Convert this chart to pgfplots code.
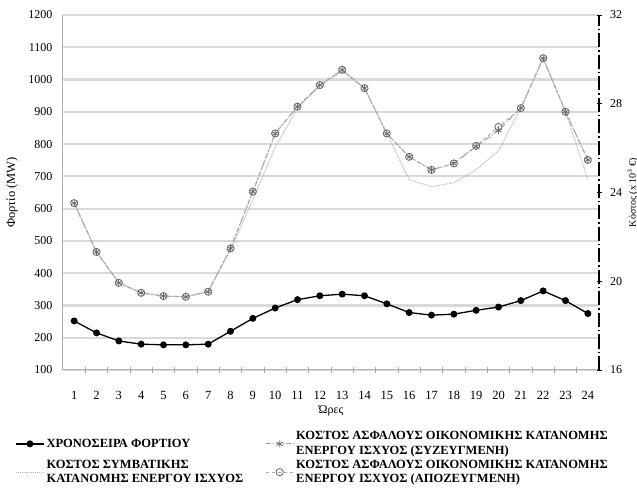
\documentclass[border=0pt]{standalone}
\usepackage{pgfplots}
\pgfplotsset{compat=1.18}
\usepackage{fontspec}
\setmainfont{Liberation Serif}
\begin{document}
\begin{tikzpicture}
\useasboundingbox (-63pt,-125pt) rectangle (574pt,370pt);
\pgfplotsset{
  loadst/.style={black, line width=1.3pt, mark=*, mark size=2.8pt, mark options={solid, fill=black}},
  convst/.style={gray!55, densely dotted, line width=1.1pt},
  syzst/.style={gray!75, dash pattern=on 5pt off 2pt on 1pt off 2pt, line width=1pt, mark=asterisk, mark size=3.6pt, mark options={solid, gray!85!black, line width=0.8pt}},
  apost/.style={gray!65, dashed, line width=1pt, mark=o, mark size=3.6pt, mark options={solid, gray!80!black, line width=0.8pt}},
  common/.style={
    scale only axis, width=536pt, height=355pt,
    at={(0,0)}, anchor=south west,
    xmin=0.5, xmax=24.5,
    /pgf/number format/assume math mode=true,
    /pgf/number format/1000 sep={},
    ticklabel style={font=\fontsize{12}{13}\selectfont},
  },
}
\begin{axis}[common,
  ymin=100, ymax=1200, ytick={100,200,...,1200},
  axis y line*=left, axis x line*=bottom,
  axis line style={gray!60, line width=1pt, -},
  xtick={1,...,24}, major x tick style={draw=none},
  minor xtick={1.5,2.5,...,23.5},
  minor tick length=6pt, tick align=center,
  minor x tick style={gray!70, line width=0.8pt},
  ytick style={draw=none},
  ymajorgrids, major grid style={gray!30, line width=2.2pt},
  xticklabel style={yshift=-16pt, font=\fontsize{12.5}{13}\selectfont},
  yticklabel style={xshift=-5pt},
  xlabel={Ώρες}, ylabel={Φορτίο (MW)},
  xlabel style={at={(axis description cs:0.5,0)}, anchor=center, yshift=-41pt, font=\fontsize{12}{13}\selectfont},
  ylabel style={at={(axis description cs:-0.095,0.5)}, anchor=center, font=\fontsize{12.5}{13}\selectfont},
]
\addplot[loadst] coordinates {
(1,252) (2,215) (3,190) (4,180) (5,178) (6,178) (7,180) (8,220) (9,260) (10,292) (11,318) (12,330)
(13,335) (14,330) (15,305) (16,278) (17,270) (18,273) (19,285) (20,295) (21,315) (22,345) (23,315) (24,275)};
\end{axis}
\begin{axis}[common,
  ymin=16, ymax=32, ytick={16,20,24,28,32},
  axis y line*=right, axis x line=none,
  y axis line style={black, line width=2.2pt, dash pattern=on 14pt off 3pt on 1.5pt off 3pt, -},
  ytick style={black, line width=0.8pt}, major tick length=5pt, tick align=center,
  yticklabel style={xshift=5pt},
  ylabel={Κόστος (x 10$^3$ €)},
  ylabel style={at={(axis description cs:1.063,0.5)}, anchor=center, font=\fontsize{10}{11}\selectfont},
  legend columns=2,
  legend image code/.code={\draw[mark repeat=2,mark phase=2] plot coordinates {(0pt,0pt) (14pt,0pt) (28pt,0pt)};},
  legend style={at={(-0.095,-0.162)}, anchor=north west, draw=none, fill=none,
    font=\bfseries\fontsize{12.5}{14.5}\selectfont, cells={anchor=west, align=left},
    /tikz/every even column/.append style={column sep=20pt}},
]
\addlegendimage{loadst}
\addlegendentry{ΧΡΟΝΟΣΕΙΡΑ ΦΟΡΤΙΟΥ}
\addplot[syzst] coordinates {
(1,23.52) (2,21.32) (3,19.93) (4,19.48) (5,19.33) (6,19.30) (7,19.53) (8,21.48) (9,24.04) (10,26.66) (11,27.87) (12,28.84)
(13,29.53) (14,28.70) (15,26.66) (16,25.61) (17,25.02) (18,25.31) (19,26.07) (20,26.80) (21,27.80) (22,30.05) (23,27.64) (24,25.47)};
\addlegendentry{ΚΟΣΤΟΣ ΑΣΦΑΛΟΥΣ ΟΙΚΟΝΟΜΙΚΗΣ ΚΑΤΑΝΟΜΗΣ\\ΕΝΕΡΓΟΥ ΙΣΧΥΟΣ (ΣΥΖΕΥΓΜΕΝΗ)}
\addplot[convst] coordinates {
(1,23.52) (2,21.32) (3,19.93) (4,19.48) (5,19.33) (6,19.30) (7,19.53) (8,21.40) (9,23.67) (10,26.04) (11,27.80) (12,28.80)
(13,29.45) (14,28.70) (15,26.66) (16,24.58) (17,24.26) (18,24.44) (19,25.02) (20,25.89) (21,27.80) (22,30.05) (23,27.64) (24,24.58)};
\addlegendentry{ΚΟΣΤΟΣ ΣΥΜΒΑΤΙΚΗΣ\\ΚΑΤΑΝΟΜΗΣ ΕΝΕΡΓΟΥ ΙΣΧΥΟΣ}
\addplot[apost] coordinates {
(1,23.52) (2,21.32) (3,19.93) (4,19.48) (5,19.33) (6,19.30) (7,19.53) (8,21.48) (9,24.04) (10,26.66) (11,27.87) (12,28.84)
(13,29.53) (14,28.70) (15,26.66) (16,25.61) (17,25.02) (18,25.31) (19,26.10) (20,26.95) (21,27.80) (22,30.05) (23,27.64) (24,25.47)};
\addlegendentry{ΚΟΣΤΟΣ ΑΣΦΑΛΟΥΣ ΟΙΚΟΝΟΜΙΚΗΣ ΚΑΤΑΝΟΜΗΣ\\ΕΝΕΡΓΟΥ ΙΣΧΥΟΣ (ΑΠΟΖΕΥΓΜΕΝΗ)}
\end{axis}
\end{tikzpicture}
\end{document}
